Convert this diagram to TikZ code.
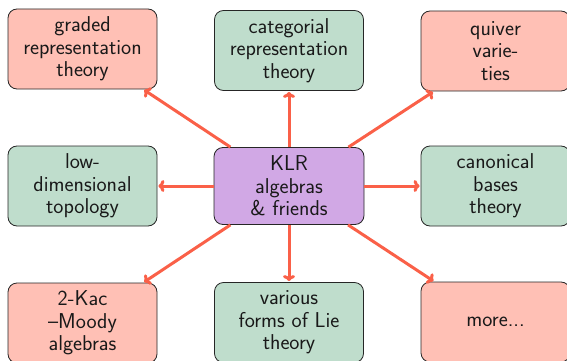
\documentclass[tikz,border=0pt]{standalone}
\usetikzlibrary{arrows.meta}
\definecolor{pinkfill}{RGB}{255,192,181}
\definecolor{greenfill}{RGB}{191,221,204}
\definecolor{purplefill}{RGB}{209,168,229}
\definecolor{arrowcol}{RGB}{250,96,72}
\tikzset{
  box/.style={draw=black!85, line width=0.8pt, rounded corners=9pt,
    minimum width=149pt, minimum height=80pt, align=center,
    text=black!90, font=\sffamily\fontsize{21.5}{22.5}\selectfont, inner sep=2pt},
  pinkbox/.style={box, fill=pinkfill},
  greenbox/.style={box, fill=greenfill},
  centerbox/.style={box, fill=purplefill, minimum width=150pt, minimum height=77pt},
  link/.style={draw=arrowcol, line width=3pt, -{To[length=6pt,width=12pt]}, shorten >=1pt}
}
\begin{document}
\begin{tikzpicture}[x=1pt,y=-1pt]
\useasboundingbox (0,0) rectangle (567,361);
\node[pinkbox]  (gr) at (82.5,49) {graded\\representation\\theory};
\node[greenbox] (cat) at (289,50.5) {categorial\\representation\\theory};
\node[pinkbox]  (qv) at (495.5,51) {quiver\\varie-\\ties};
\node[greenbox] (low) at (82.5,186) {low-\\dimensional\\topology};
\node[centerbox] (klr) at (289,186) {KLR\\algebras\\\&\ friends};
\node[greenbox] (can) at (495.5,186) {canonical\\bases\\theory};
\node[pinkbox]  (kac) at (82.5,323) {2-Kac\\--Moody\\algebras};
\node[greenbox] (lie) at (289,322.5) {various\\forms of Lie\\theory};
\node[pinkbox]  (more) at (495.5,322) {more...};
\foreach \t in {gr,cat,qv,low,can,kac,lie,more}
  \draw[link] (klr) -- (\t);
\end{tikzpicture}
\end{document}
